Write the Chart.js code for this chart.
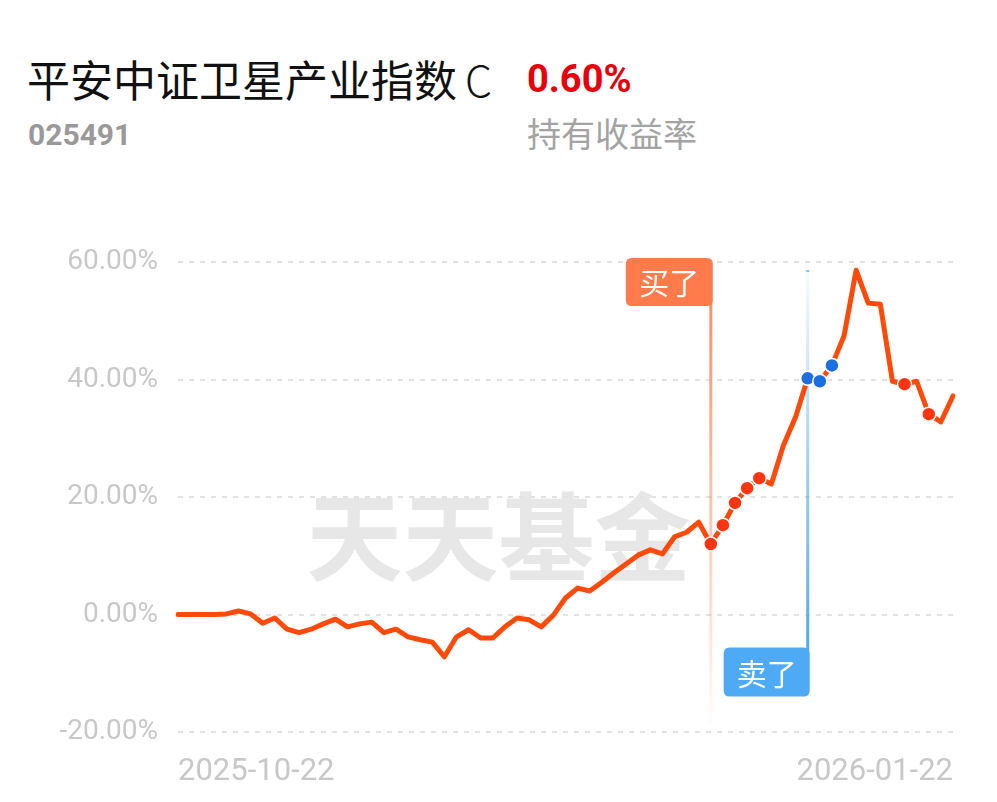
<!DOCTYPE html>
<html>
<head>
<meta charset="utf-8">
<script src="https://cdn.jsdelivr.net/npm/chart.js@4/dist/chart.umd.min.js"></script>
<style>
  body { margin: 0; background: #fff; width: 997px; height: 802px; overflow: hidden; position: relative; }
  .txt { position: absolute; white-space: nowrap; line-height: 1; }
  #title { left: 27px; top: 47px; font: 43px "Noto Sans CJK SC", sans-serif; color: #111; }
  #title span { margin-left: 8px; font-weight: 300; }
  #rate { left: 527px; top: 57px; font: bold 38px Roboto, sans-serif; color: #e8000b; }
  #code { left: 28px; top: 117px; font: bold 30px Roboto, sans-serif; color: #999; }
  #rateLbl { left: 527px; top: 108px; font: 34px "Noto Sans CJK SC", sans-serif; color: #a3a3a3; }
  canvas { position: absolute; left: 0; top: 0; }
</style>
</head>
<body>
<div class="txt" id="title">平安中证卫星产业指数<span>C</span></div>
<div class="txt" id="rate">0.60%</div>
<div class="txt" id="code">025491</div>
<div class="txt" id="rateLbl">持有收益率</div>
<canvas id="c" width="997" height="802"></canvas>
<script>
// trading days shown on the x axis (only first / last labelled)
const dates = [
  '2025-10-22','2025-10-23','2025-10-24','2025-10-27','2025-10-28','2025-10-29','2025-10-30','2025-10-31',
  '2025-11-03','2025-11-04','2025-11-05','2025-11-06','2025-11-07','2025-11-10','2025-11-11','2025-11-12',
  '2025-11-13','2025-11-14','2025-11-17','2025-11-18','2025-11-19','2025-11-20','2025-11-21','2025-11-24',
  '2025-11-25','2025-11-26','2025-11-27','2025-11-28',
  '2025-12-01','2025-12-02','2025-12-03','2025-12-04','2025-12-05','2025-12-08','2025-12-09','2025-12-10',
  '2025-12-11','2025-12-12','2025-12-15','2025-12-16','2025-12-17','2025-12-18','2025-12-19','2025-12-22',
  '2025-12-23','2025-12-24','2025-12-25','2025-12-26','2025-12-29','2025-12-30','2025-12-31',
  '2026-01-05','2026-01-06','2026-01-07','2026-01-08','2026-01-09','2026-01-12','2026-01-13','2026-01-14',
  '2026-01-15','2026-01-16','2026-01-19','2026-01-20','2026-01-21','2026-01-22'
];

// cumulative return, %
const returns = [
  0.0, 0.0, 0.0, 0.0, 0.1, 0.6, 0.1, -1.5, -0.6, -2.5,
  -3.1, -2.5, -1.6, -0.8, -2.1, -1.6, -1.3, -3.1, -2.5, -3.8,
  -4.3, -4.7, -7.2, -3.8, -2.6, -4.0, -4.0, -2.1, -0.6, -0.9,
  -2.1, -0.1, 2.8, 4.5, 4.0, 5.5, 7.1, 8.6, 10.1, 11.0,
  10.3, 13.2, 14.0, 15.7, 12.0, 15.2, 19.0, 21.5, 23.2, 22.2,
  28.8, 33.6, 40.2, 39.7, 42.4, 47.4, 58.6, 53.0, 52.8, 39.7,
  39.2, 39.7, 34.1, 32.8, 37.2
];

const buyDots = [44, 45, 46, 47, 48, 60, 62];
const sellDots = [52, 53, 54];
const buyIndex = 44;
const sellIndex = 52;
const yTicks = [-20, 0, 20, 40, 60];

const lineColor = '#ff4a0a';
const buyColor = '#ff7b4b';
const sellColor = '#4faaf6';

function roundRect(ctx, x, y, w, h, r) {
  ctx.beginPath();
  ctx.moveTo(x + r, y);
  ctx.lineTo(x + w - r, y);
  ctx.quadraticCurveTo(x + w, y, x + w, y + r);
  ctx.lineTo(x + w, y + h - r);
  ctx.quadraticCurveTo(x + w, y + h, x + w - r, y + h);
  ctx.lineTo(x + r, y + h);
  ctx.quadraticCurveTo(x, y + h, x, y + h - r);
  ctx.lineTo(x, y + r);
  ctx.quadraticCurveTo(x, y, x + r, y);
  ctx.closePath();
}

const tradePlugin = {
  id: 'trades',
  beforeDraw(chart) {
    // watermark
    const ctx = chart.ctx;
    const ys = chart.scales.y;
    ctx.save();
    ctx.font = 'bold 96px "Noto Sans CJK SC"';
    ctx.fillStyle = '#e7e7e7';
    ctx.textAlign = 'center';
    ctx.textBaseline = 'middle';
    ctx.fillText('天天基金', chart.width / 2, ys.getPixelForValue(13.3));
    ctx.restore();
  },
  beforeDatasetsDraw(chart) {
    const ctx = chart.ctx;
    const xs = chart.scales.x, ys = chart.scales.y;
    const area = chart.chartArea;
    ctx.save();

    // buy marker
    const bx = xs.getPixelForValue(buyIndex);
    const bTop = ys.getPixelForValue(60) - 4;
    const bBottom = area.bottom - 8;
    let g = ctx.createLinearGradient(0, bTop + 48, 0, bBottom);
    g.addColorStop(0, 'rgba(255,123,75,0.85)');
    g.addColorStop(1, 'rgba(255,123,75,0.02)');
    ctx.fillStyle = g;
    ctx.fillRect(bx - 1.5, bTop + 40, 3, bBottom - bTop - 40);
    ctx.fillStyle = buyColor;
    roundRect(ctx, bx - 85, bTop, 87, 48, 6);
    ctx.fill();
    ctx.fillStyle = '#fff';
    ctx.font = '30px "Noto Sans CJK SC"';
    ctx.textAlign = 'center';
    ctx.textBaseline = 'middle';
    ctx.fillText('买了', bx - 41.5, bTop + 25);

    // sell marker
    const sx = xs.getPixelForValue(sellIndex);
    const sTop = ys.getPixelForValue(60) + 8;
    const sLabelTop = ys.getPixelForValue(-5.6);
    g = ctx.createLinearGradient(0, sTop, 0, sLabelTop);
    g.addColorStop(0, 'rgba(79,170,246,0.05)');
    g.addColorStop(1, 'rgba(79,170,246,1)');
    ctx.fillStyle = g;
    ctx.fillRect(sx - 1.5, sTop, 3, sLabelTop - sTop + 4);
    ctx.fillStyle = 'rgba(79,170,246,0.7)';
    ctx.fillRect(sx - 1.5, sTop, 3, 2);
    ctx.fillStyle = sellColor;
    roundRect(ctx, sx - 84, sLabelTop, 86, 49, 6);
    ctx.fill();
    ctx.fillStyle = '#fff';
    ctx.fillText('卖了', sx - 41, sLabelTop + 26);
    ctx.restore();
  }
};

new Chart(document.getElementById('c'), {
  type: 'line',
  data: {
    labels: dates,
    datasets: [{
      data: returns,
      borderColor: lineColor,
      borderWidth: 5,
      tension: 0,
      borderJoinStyle: 'round',
      borderCapStyle: 'round',
      pointRadius: ctx => (buyDots.includes(ctx.dataIndex) || sellDots.includes(ctx.dataIndex)) ? 7 : 0,
      pointBackgroundColor: ctx => sellDots.includes(ctx.dataIndex) ? '#1d6ee0' : '#ff3512',
      pointBorderColor: '#fff',
      pointBorderWidth: 1.5,
      pointHoverRadius: 0
    }]
  },
  options: {
    responsive: false,
    animation: false,
    layout: { padding: { top: 262, right: 44, left: 0, bottom: 0 } },
    plugins: { legend: { display: false }, tooltip: { enabled: false } },
    scales: {
      x: {
        offset: false,
        grid: { display: false, drawTicks: false },
        border: { display: false },
        afterFit: s => { s.height = 70; },
        ticks: {
          autoSkip: false,
          maxRotation: 0,
          align: 'inner',
          padding: 22,
          color: '#c8c8c8',
          font: { family: 'Roboto', size: 31 },
          callback: (v, i) => (i === 0 || i === dates.length - 1) ? dates[i] : ''
        }
      },
      y: {
        min: yTicks[0],
        max: yTicks[yTicks.length - 1],
        afterFit: s => { s.width = 178; },
        afterBuildTicks: s => { s.ticks = yTicks.map(v => ({ value: v })); },
        grid: { color: '#e2e2e2', lineWidth: 2, drawTicks: false },
        border: { display: false, dash: [5, 6] },
        ticks: {
          padding: 20,
          color: '#c8c8c8',
          font: { family: 'Roboto', size: 28 },
          callback: v => v.toFixed(2) + '%'
        }
      }
    }
  },
  plugins: [tradePlugin]
});
</script>
</body>
</html>
